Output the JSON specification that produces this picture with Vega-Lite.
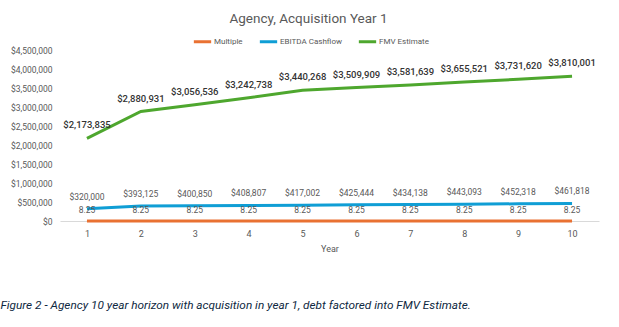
{
  "$schema": "https://vega.github.io/schema/vega-lite/v6.json",
  "autosize": {"type": "none"},
  "padding": {"left": 60, "top": 50, "right": 20, "bottom": 106},
  "width": 539,
  "height": 171,
  "background": "white",
  "config": {
    "font": "Roboto",
    "view": {"stroke": null},
    "axis": {"labelFont": "Roboto", "titleFont": "Roboto"},
    "legend": {"labelFont": "Roboto"}
  },
  "title": {
    "text": "Agency, Acquisition Year 1",
    "anchor": "middle",
    "dx": -21,
    "offset": 6,
    "fontSize": 13.5,
    "fontWeight": "normal",
    "color": "#595959",
    "font": "Roboto"
  },
  "data": {"values": [
      {"year": 1, "series": "Multiple", "value": 8.25},
      {"year": 2, "series": "Multiple", "value": 8.25},
      {"year": 3, "series": "Multiple", "value": 8.25},
      {"year": 4, "series": "Multiple", "value": 8.25},
      {"year": 5, "series": "Multiple", "value": 8.25},
      {"year": 6, "series": "Multiple", "value": 8.25},
      {"year": 7, "series": "Multiple", "value": 8.25},
      {"year": 8, "series": "Multiple", "value": 8.25},
      {"year": 9, "series": "Multiple", "value": 8.25},
      {"year": 10, "series": "Multiple", "value": 8.25},
      {"year": 1, "series": "EBITDA Cashflow", "value": 320000},
      {"year": 2, "series": "EBITDA Cashflow", "value": 393125},
      {"year": 3, "series": "EBITDA Cashflow", "value": 400850},
      {"year": 4, "series": "EBITDA Cashflow", "value": 408807},
      {"year": 5, "series": "EBITDA Cashflow", "value": 417002},
      {"year": 6, "series": "EBITDA Cashflow", "value": 425444},
      {"year": 7, "series": "EBITDA Cashflow", "value": 434138},
      {"year": 8, "series": "EBITDA Cashflow", "value": 443093},
      {"year": 9, "series": "EBITDA Cashflow", "value": 452318},
      {"year": 10, "series": "EBITDA Cashflow", "value": 461818},
      {"year": 1, "series": "FMV Estimate", "value": 2173835},
      {"year": 2, "series": "FMV Estimate", "value": 2880931},
      {"year": 3, "series": "FMV Estimate", "value": 3056536},
      {"year": 4, "series": "FMV Estimate", "value": 3242738},
      {"year": 5, "series": "FMV Estimate", "value": 3440268},
      {"year": 6, "series": "FMV Estimate", "value": 3509909},
      {"year": 7, "series": "FMV Estimate", "value": 3581639},
      {"year": 8, "series": "FMV Estimate", "value": 3655521},
      {"year": 9, "series": "FMV Estimate", "value": 3731620},
      {"year": 10, "series": "FMV Estimate", "value": 3810001}
  ]},
  "encoding": {
    "x": {
      "field": "year",
      "type": "ordinal",
      "scale": {"type": "point", "padding": 0.5},
      "axis": null
    },
    "y": {
      "field": "value",
      "type": "quantitative",
      "scale": {"domain": [0, 4500000], "nice": false},
      "axis": {
        "title": null,
        "values": [0, 500000, 1000000, 1500000, 2000000, 2500000, 3000000, 3500000, 4000000, 4500000],
        "format": "$,.0f",
        "domain": false,
        "ticks": false,
        "grid": false,
        "labelColor": "#595959",
        "labelFontSize": 8.5,
        "labelPadding": 8
      }
    }
  },
  "layer": [
    {
      "mark": {"type": "line", "strokeWidth": 3},
      "encoding": {
        "x": {
          "field": "year",
          "type": "ordinal",
          "scale": {"type": "point", "padding": 0.5},
          "axis": {
            "title": "Year",
            "labelAngle": 0,
            "ticks": false,
            "domainColor": "#D9D9D9",
            "labelColor": "#595959",
            "labelFontSize": 9,
            "labelPadding": 8,
            "titleColor": "#595959",
            "titleFontSize": 9,
            "titleFontWeight": "normal",
            "titlePadding": 6
          }
        },
        "color": {
          "field": "series",
          "type": "nominal",
          "scale": {
            "domain": ["Multiple", "EBITDA Cashflow", "FMV Estimate"],
            "range": ["#E97132", "#0F9ED5", "#4EA72E"]
          },
          "legend": {
            "title": null,
            "orient": "none",
            "direction": "horizontal",
            "legendX": 132,
            "legendY": -19,
            "symbolType": "stroke",
            "symbolStrokeWidth": 3,
            "symbolSize": 300,
            "labelColor": "#595959",
            "labelFontSize": 8,
            "labelOffset": 1,
            "columnPadding": 10
          }
        }
      }
    },
    {
      "transform": [{"filter": "datum.series === 'FMV Estimate'"}],
      "mark": {"type": "text", "dy": -13, "fontSize": 9.5, "fontWeight": 500, "color": "#333333"},
      "encoding": {"text": {"field": "value", "type": "quantitative", "format": "$,.0f"}}
    },
    {
      "transform": [{"filter": "datum.series === 'EBITDA Cashflow'"}],
      "mark": {"type": "text", "dy": -12, "fontSize": 8.5, "color": "#595959"},
      "encoding": {"text": {"field": "value", "type": "quantitative", "format": "$,.0f"}}
    },
    {
      "transform": [{"filter": "datum.series === 'Multiple'"}],
      "mark": {"type": "text", "dy": -11, "fontSize": 8.5, "color": "#595959"},
      "encoding": {
        "text": {"field": "value", "type": "quantitative", "format": ".2f"},
        "x": {
          "field": "year",
          "type": "ordinal",
          "scale": {"type": "point", "padding": 0.5},
          "axis": {
            "orient": "bottom",
            "title": "Figure 2 - Agency 10 year horizon with acquisition in year 1, debt factored into FMV Estimate.",
            "labels": false,
            "ticks": false,
            "domain": false,
            "grid": false,
            "titleAnchor": "start",
            "titleAlign": "left",
            "titleBaseline": "middle",
            "titleX": -60,
            "titleY": 83,
            "titleFontSize": 11.8,
            "titleFontStyle": "italic",
            "titleFontWeight": "normal",
            "titleColor": "#0E2841"
          }
        }
      }
    }
  ],
  "resolve": {"axis": {"x": "independent"}}
}
